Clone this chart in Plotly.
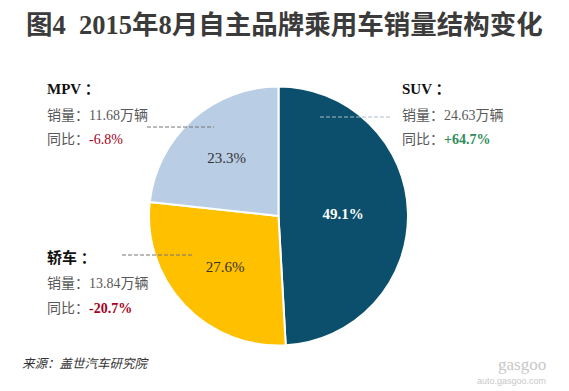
import plotly.graph_objects as go

W, H = 569, 391

categories = ["SUV", "轿车", "MPV"]
sales = [24.63, 13.84, 11.68]          # 万辆
yoy = ["+64.7%", "-20.7%", "-6.8%"]
colors = ["#0B4F6C", "#FFC000", "#B9CDE5"]
title = "图4  2015年8月自主品牌乘用车销量结构变化"
source = "来源：盖世汽车研究院"

def px(x):
    return x / W

def py(y):
    return 1 - y / H

fig = go.Figure()
fig.add_trace(go.Pie(
    labels=categories,
    values=sales,
    sort=False,
    direction="clockwise",
    rotation=0,
    marker=dict(colors=colors, line=dict(color="white", width=2)),
    texttemplate=["<b>%{percent:.1%}</b>", "%{percent:.1%}", "%{percent:.1%}"],
    textposition="inside",
    insidetextorientation="horizontal",
    insidetextfont=dict(family="Liberation Serif, Noto Sans CJK SC", size=15,
                        color=["white", "#333333", "#333333"]),
    hoverinfo="skip",
    showlegend=False,
    domain=dict(x=[px(149), px(408)], y=[py(346), py(86)]),
))

FONT = "Liberation Serif, Noto Sans CJK SC"
ann = []
ann.append(dict(x=0.5, y=py(25), xref="paper", yref="paper", text="<b>" + title + "</b>",
                showarrow=False, font=dict(family=FONT, size=26.5, color="#3B3B3B"),
                xanchor="center", yanchor="middle"))

green = "#2E8B57"
red = "#A50021"
blocks = [
    (400, 89, categories[0], sales[0], yoy[0], green, True),
    (45, 257, categories[1], sales[1], yoy[1], red, True),
    (45, 89, categories[2], sales[2], yoy[2], red, False),
]
for x0, y0, cat, s, g, c, bold in blocks:
    ann.append(dict(x=px(x0), y=py(y0), xref="paper", yref="paper",
                    text="<b>" + cat + " ：</b>", showarrow=False,
                    font=dict(family=FONT, size=15, color="#111111"),
                    xanchor="left", yanchor="middle"))
    ann.append(dict(x=px(x0), y=py(y0 + 26), xref="paper", yref="paper",
                    text="销量：" + f"{s:.2f}" + "万辆", showarrow=False,
                    font=dict(family=FONT, size=14, color="#595959"),
                    xanchor="left", yanchor="middle"))
    gtxt = ("<b>" + g + "</b>") if bold else g
    ann.append(dict(x=px(x0), y=py(y0 + 51), xref="paper", yref="paper",
                    text="同比：<span style='color:" + c + "'>" + gtxt + "</span>",
                    showarrow=False,
                    font=dict(family=FONT, size=14, color="#595959"),
                    xanchor="left", yanchor="middle"))

ann.append(dict(x=px(20), y=py(364), xref="paper", yref="paper",
                text="<i>" + source + "</i>", showarrow=False,
                font=dict(family=FONT, size=12.5, color="#333333"),
                xanchor="left", yanchor="middle"))
ann.append(dict(x=px(548), y=py(364), xref="paper", yref="paper",
                text="gasgoo", showarrow=False,
                font=dict(family="Liberation Serif", size=17, color="#C8C8C8"),
                xanchor="right", yanchor="middle"))
ann.append(dict(x=px(548), y=py(381), xref="paper", yref="paper",
                text="auto.gasgoo.com", showarrow=False,
                font=dict(family="Liberation Sans", size=9, color="#C8C8C8"),
                xanchor="right", yanchor="middle"))

shapes = []
for (xa, xb, yy, col) in [(320, 392, 117, "#A9BCC7"), (147, 214, 127, "#777777"), (122, 192, 255, "#777777")]:
    shapes.append(dict(type="line", xref="paper", yref="paper",
                       x0=px(xa), x1=px(xb), y0=py(yy), y1=py(yy),
                       line=dict(color=col, width=1, dash="4px,2px")))

fig.update_layout(
    width=W, height=H,
    margin=dict(l=0, r=0, t=0, b=0),
    paper_bgcolor="white", plot_bgcolor="white",
    annotations=ann, shapes=shapes,
)

fig.write_html("out.html", config={"displayModeBar": False},
               post_script="document.body.style.margin='0';")
